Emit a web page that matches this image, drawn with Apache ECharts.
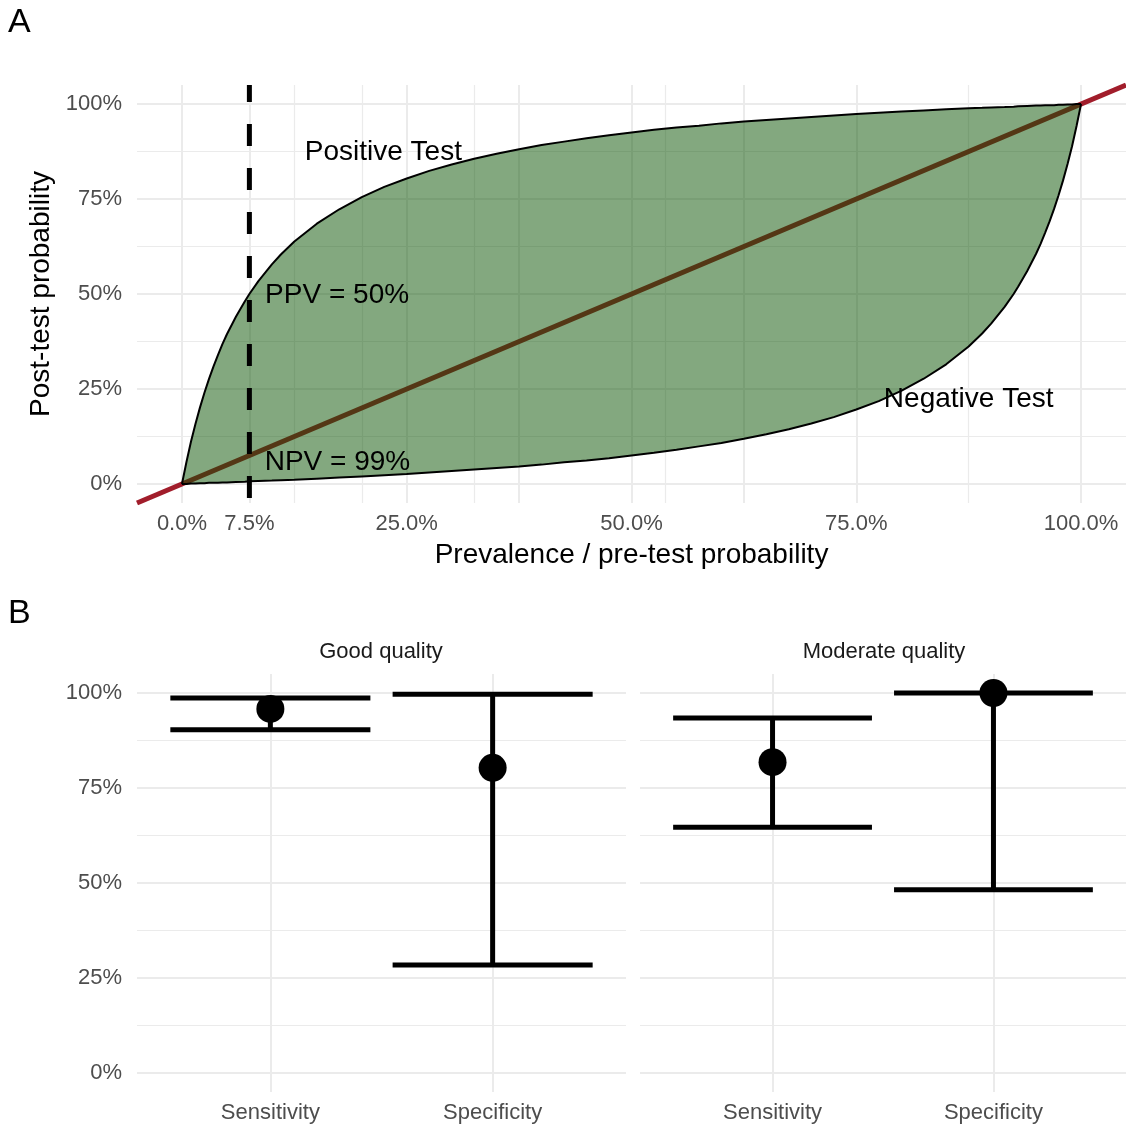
<!DOCTYPE html>
<html>
<head>
<meta charset="utf-8">
<script src="https://cdn.jsdelivr.net/npm/echarts@6/dist/echarts.min.js"></script>
<style>
  html, body { margin: 0; padding: 0; background: #fff; }
  #chart { width: 1126px; height: 1127px; }
</style>
</head>
<body>
<div id="chart"></div>
<script>
// panel A: post-test probability against prevalence
var prevalence = [0, 0.5, 1, 1.5, 2, 2.5, 3, 3.5, 4, 4.5, 5, 6, 7, 7.5, 8.5, 10, 11, 12.5, 15, 17.5,
                  20, 22.5, 25, 27.5, 30, 32.5, 35, 37.5, 40, 42.5, 45, 47.5, 50, 52.5, 55, 57.5, 60, 62.5, 65, 67.5,
                  70, 72.5, 75, 77.5, 80, 82.5, 85, 87.5, 89, 90, 91.5, 92.5, 93, 94, 95, 95.5, 96, 96.5, 97, 97.5,
                  98, 98.5, 99, 99.5, 100];
var positivePost = [0, 5.8, 11.1, 15.8, 20.1, 24.0, 27.6, 30.9, 33.9, 36.8, 39.4, 44.0, 48.1, 50.0, 53.4, 57.8, 60.4, 63.8, 68.5, 72.3,
                    75.5, 78.2, 80.4, 82.4, 84.1, 85.6, 86.9, 88.1, 89.2, 90.1, 91.0, 91.8, 92.5, 93.2, 93.8, 94.3, 94.9, 95.4, 95.8, 96.2,
                    96.6, 97.0, 97.4, 97.7, 98.0, 98.3, 98.6, 98.9, 99.0, 99.1, 99.2, 99.3, 99.4, 99.5, 99.6, 99.6, 99.7, 99.7, 99.7, 99.8,
                    99.8, 99.9, 99.9, 100, 100];
var negativePost = [0, 0, 0.1, 0.1, 0.2, 0.2, 0.3, 0.3, 0.3, 0.4, 0.4, 0.5, 0.6, 0.7, 0.8, 0.9, 1.0, 1.1, 1.4, 1.7,
                    2.0, 2.3, 2.6, 3.0, 3.4, 3.8, 4.2, 4.6, 5.1, 5.7, 6.2, 6.8, 7.5, 8.2, 9.0, 9.9, 10.8, 11.9, 13.1, 14.4,
                    15.9, 17.6, 19.6, 21.8, 24.5, 27.7, 31.5, 36.2, 39.6, 42.2, 46.6, 50.0, 51.9, 56.0, 60.6, 63.2, 66.1, 69.1, 72.4, 76.0,
                    79.9, 84.2, 88.9, 94.2, 100];
var prevTicks = [0, 7.5, 25, 50, 75, 100];
var probTicks = [0, 25, 50, 75, 100];
var cutoff = 7.5;
var axisRange = [-5, 105];

var annoText = ['Positive Test', 'PPV = 50%', 'NPV = 99%', 'Negative Test'];
var annoX = [22.4, 9.25, 9.2, 87.5];
var annoY = [87.4, 49.7, 5.8, 22.4];

// panel B: estimates with confidence intervals
var measures = ['Sensitivity', 'Specificity'];
var goodEst = [95.8, 80.3];
var goodLow = [90.3, 28.4];
var goodHigh = [98.7, 99.7];
var modEst = [81.8, 100];
var modLow = [64.7, 48.2];
var modHigh = [93.4, 100];

var FONT = '"Liberation Sans", Arial, Helvetica, sans-serif';
var GRID_COLOR = '#ebebeb';

var chart = echarts.init(document.getElementById('chart'));

function pct(v) { return v + '%'; }

function gridSeries(idx, xs, ys) {
    // xs / ys: [value, width]
    var lines = [];
    xs.forEach(function (g) { lines.push({ xAxis: g[0], lineStyle: { width: g[1] } }); });
    ys.forEach(function (g) { lines.push({ yAxis: g[0], lineStyle: { width: g[1] } }); });
    return {
        type: 'line', xAxisIndex: idx, yAxisIndex: idx, data: [], silent: true, z: 0,
        markLine: {
            silent: true, animation: false, symbol: ['none', 'none'], z: 0,
            label: { show: false },
            emphasis: { disabled: true },
            lineStyle: { color: GRID_COLOR, type: 'solid' },
            data: lines
        }
    };
}

function errorSeries(idx, low, high) {
    return {
        type: 'custom', xAxisIndex: idx, yAxisIndex: idx, z: 3, silent: true,
        encode: { x: 0, y: [1, 2] },
        data: measures.map(function (m, i) { return [i + 1, low[i], high[i]]; }),
        renderItem: function (params, api) {
            var x = api.value(0);
            var pHi = api.coord([x, api.value(2)]);
            var pLo = api.coord([x, api.value(1)]);
            var half = api.size([0.9, 0])[0] / 2;
            var lw = 5;
            var st = { fill: '#000' };
            return {
                type: 'group',
                children: [
                    { type: 'rect', shape: { x: pHi[0] - lw / 2, y: pHi[1], width: lw, height: pLo[1] - pHi[1] }, style: st },
                    { type: 'rect', shape: { x: pHi[0] - half, y: pHi[1] - lw / 2, width: half * 2, height: lw }, style: st },
                    { type: 'rect', shape: { x: pLo[0] - half, y: pLo[1] - lw / 2, width: half * 2, height: lw }, style: st }
                ]
            };
        }
    };
}

function pointSeries(idx, est) {
    return {
        type: 'scatter', xAxisIndex: idx, yAxisIndex: idx, z: 4, silent: true,
        symbolSize: 28, itemStyle: { color: '#000', opacity: 1 },
        data: measures.map(function (m, i) { return [i + 1, est[i]]; })
    };
}

var tickLabel = { color: '#4d4d4d', fontSize: 22 };
var hidden = { show: false };

function catAxis(idx) {
    return {
        gridIndex: idx, type: 'value', min: 0.4, max: 2.6,
        axisLine: hidden, axisTick: hidden, splitLine: hidden,
        axisLabel: {
            customValues: [1, 2], margin: 10, color: tickLabel.color, fontSize: tickLabel.fontSize, fontFamily: FONT,
            formatter: function (v) { return measures[Math.round(v) - 1]; }
        }
    };
}

var option = {
    animation: false,
    backgroundColor: '#fff',
    textStyle: { fontFamily: FONT },
    title: [
        { text: 'A', left: 8, top: 6, padding: 0, textStyle: { fontSize: 34, fontWeight: 'normal', color: '#000', fontFamily: FONT } },
        { text: 'B', left: 8, top: 597, padding: 0, textStyle: { fontSize: 34, fontWeight: 'normal', color: '#000', fontFamily: FONT } },
        { text: 'Good quality', left: 381, top: 641, padding: 0, textAlign: 'center', textStyle: { fontSize: 22, fontWeight: 'normal', color: '#1a1a1a', fontFamily: FONT } },
        { text: 'Moderate quality', left: 884, top: 641, padding: 0, textAlign: 'center', textStyle: { fontSize: 22, fontWeight: 'normal', color: '#1a1a1a', fontFamily: FONT } }
    ],
    grid: [
        { left: 137, top: 85, width: 989, height: 418 },
        { left: 137, top: 674, width: 489, height: 418 },
        { left: 640, top: 674, width: 486, height: 418 }
    ],
    xAxis: [
        {
            gridIndex: 0, type: 'value', min: axisRange[0], max: axisRange[1],
            axisLine: hidden, axisTick: hidden, splitLine: hidden,
            axisLabel: {
                customValues: prevTicks, margin: 10, color: tickLabel.color, fontSize: tickLabel.fontSize, fontFamily: FONT,
                formatter: function (v) { return v.toFixed(1) + '%'; }
            },
            name: 'Prevalence / pre-test probability', nameLocation: 'middle', nameGap: 38,
            nameTextStyle: { fontSize: 28, color: '#000', fontFamily: FONT }
        },
        catAxis(1),
        catAxis(2)
    ],
    yAxis: [
        {
            gridIndex: 0, type: 'value', min: axisRange[0], max: axisRange[1],
            axisLine: hidden, axisTick: hidden, splitLine: hidden,
            axisLabel: { customValues: probTicks, margin: 15, color: tickLabel.color, fontSize: tickLabel.fontSize, fontFamily: FONT, formatter: pct },
            name: 'Post-test probability', nameLocation: 'middle', nameGap: 80,
            nameTextStyle: { fontSize: 28, color: '#000', fontFamily: FONT }
        },
        {
            gridIndex: 1, type: 'value', min: axisRange[0], max: axisRange[1],
            axisLine: hidden, axisTick: hidden, splitLine: hidden,
            axisLabel: { customValues: probTicks, margin: 15, color: tickLabel.color, fontSize: tickLabel.fontSize, fontFamily: FONT, formatter: pct }
        },
        {
            gridIndex: 2, type: 'value', min: axisRange[0], max: axisRange[1],
            axisLine: hidden, axisTick: hidden, splitLine: hidden, axisLabel: hidden
        }
    ],
    series: [
        gridSeries(0,
            [[0, 2], [7.5, 2], [12.5, 1.2], [20, 1.2], [25, 2], [32.5, 1.2], [37.5, 2], [50, 2], [53.75, 1.2], [62.5, 2], [75, 2], [87.5, 1.2], [100, 2]],
            [[0, 2], [12.5, 1.2], [25, 2], [37.5, 1.2], [50, 2], [62.5, 1.2], [75, 2], [87.5, 1.2], [100, 2]]),
        gridSeries(1, [[1, 2], [2, 2]],
            [[0, 2], [12.5, 1.2], [25, 2], [37.5, 1.2], [50, 2], [62.5, 1.2], [75, 2], [87.5, 1.2], [100, 2]]),
        gridSeries(2, [[1, 2], [2, 2]],
            [[0, 2], [12.5, 1.2], [25, 2], [37.5, 1.2], [50, 2], [62.5, 1.2], [75, 2], [87.5, 1.2], [100, 2]]),

        // identity line (no-information test)
        {
            type: 'line', xAxisIndex: 0, yAxisIndex: 0, z: 1, symbol: 'none', silent: true,
            lineStyle: { color: '#a11d2b', width: 5 },
            data: [[axisRange[0], axisRange[0]], [axisRange[1], axisRange[1]]]
        },
        // band between the negative and positive test curves
        {
            type: 'custom', xAxisIndex: 0, yAxisIndex: 0, z: 2, silent: true,
            data: [[prevalence[0], negativePost[0], positivePost[0]]],
            encode: { x: 0, y: [1, 2] },
            renderItem: function (params, api) {
                var pts = [], i;
                for (i = 0; i < prevalence.length; i++) pts.push(api.coord([prevalence[i], positivePost[i]]));
                for (i = prevalence.length - 1; i >= 0; i--) pts.push(api.coord([prevalence[i], negativePost[i]]));
                return { type: 'polygon', shape: { points: pts }, style: { fill: 'rgba(8,82,0,0.5)' } };
            }
        },
        {
            type: 'line', xAxisIndex: 0, yAxisIndex: 0, z: 3, symbol: 'none', silent: true,
            lineStyle: { color: '#000', width: 2 },
            data: prevalence.map(function (p, i) { return [p, positivePost[i]]; })
        },
        {
            type: 'line', xAxisIndex: 0, yAxisIndex: 0, z: 3, symbol: 'none', silent: true,
            lineStyle: { color: '#000', width: 2 },
            data: prevalence.map(function (p, i) { return [p, negativePost[i]]; })
        },
        // chosen prevalence
        {
            type: 'line', xAxisIndex: 0, yAxisIndex: 0, z: 5, symbol: 'none', silent: true,
            lineStyle: { color: '#000', width: 5, type: [22, 22], dashOffset: 5 },
            data: [[cutoff, axisRange[1]], [cutoff, axisRange[0]]]
        },
        {
            type: 'scatter', xAxisIndex: 0, yAxisIndex: 0, z: 6, silent: true,
            symbolSize: 1, itemStyle: { color: 'rgba(0,0,0,0)', opacity: 1 },
            data: annoText.map(function (t, i) {
                return {
                    value: [annoX[i], annoY[i]],
                    label: {
                        show: true, formatter: t, position: 'inside',
                        align: (i === 1 || i === 2) ? 'left' : 'center', verticalAlign: 'middle',
                        fontSize: 28, color: '#000', fontFamily: FONT
                    }
                };
            })
        },

        errorSeries(1, goodLow, goodHigh),
        pointSeries(1, goodEst),
        errorSeries(2, modLow, modHigh),
        pointSeries(2, modEst)
    ]
};

chart.setOption(option);
</script>
</body>
</html>
